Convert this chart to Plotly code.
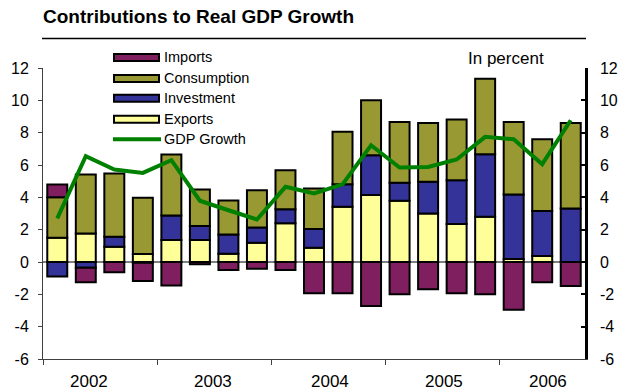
import plotly.graph_objects as go

# Quarterly contributions (percentage points), 2002Q1 - 2006Q3
quarters = ["2002Q1", "2002Q2", "2002Q3", "2002Q4",
            "2003Q1", "2003Q2", "2003Q3", "2003Q4",
            "2004Q1", "2004Q2", "2004Q3", "2004Q4",
            "2005Q1", "2005Q2", "2005Q3", "2005Q4",
            "2006Q1", "2006Q2", "2006Q3"]
years = ["2002", "2003", "2004", "2005", "2006"]

exports = [1.50, 1.77, 0.95, 0.49, 1.36, 1.36, 0.51, 1.19, 2.39, 0.88,
           3.42, 4.14, 3.79, 3.00, 2.35, 2.80, 0.19, 0.37, 0.00]
investment = [-0.90, -0.35, 0.61, -0.05, 1.52, 0.86, 1.19, 0.95, 0.88, 1.16,
              1.39, 2.46, 1.11, 1.96, 2.71, 3.87, 3.99, 2.78, 3.31]
consumption = [2.50, 3.64, 3.91, 3.48, 3.77, 2.27, 2.11, 2.30, 2.41, 2.51,
               3.24, 3.40, 3.76, 3.64, 3.75, 4.67, 4.48, 4.44, 5.29]
imports = [0.80, -0.90, -0.64, -1.12, -1.46, -0.14, -0.50, -0.41, -0.49, -1.93,
           -1.93, -2.72, -2.00, -1.69, -1.93, -2.00, -2.96, -1.25, -1.48]
gdp_growth = [2.70, 6.54, 5.72, 5.51, 6.30, 3.79, 3.20, 2.63, 4.65, 4.24,
              4.80, 7.22, 5.84, 5.88, 6.34, 7.74, 7.59, 6.05, 8.77]

y_ticks = [12, 10, 8, 6, 4, 2, 0, -2, -4, -6]

W, H = 623, 392
L, R, T, B = 43, 38, 67.6, 33
FONT = "Liberation Sans, Arial, sans-serif"

series = [
    ("Exports", exports, "#FFFF99"),
    ("Investment", investment, "#333399"),
    ("Consumption", consumption, "#999933"),
    ("Imports", imports, "#7F1F5F"),
]

x = list(range(len(quarters)))
fig = go.Figure()
for name, vals, col in series:
    fig.add_trace(go.Bar(
        x=x, y=vals, name=name, width=0.7,
        marker=dict(color=col, line=dict(color="black", width=2)),
        hovertext=quarters,
    ))
fig.add_trace(go.Scatter(
    x=x, y=gdp_growth, name="GDP Growth", mode="lines",
    line=dict(color="#008000", width=4), hovertext=quarters,
))
# invisible trace to carry the right-hand axis
fig.add_trace(go.Scatter(x=[x[0]], y=[0], yaxis="y2", mode="markers",
                         marker=dict(opacity=0), showlegend=False, hoverinfo="skip"))


def px_x(p):
    return (p - L) / (W - L - R)


def px_y(p):
    return (H - B - p) / (H - B - T)


shapes = []
annotations = []

# title rule
shapes.append(dict(type="line", xref="paper", yref="paper",
                   x0=px_x(42), x1=px_x(586), y0=px_y(38), y1=px_y(38),
                   line=dict(color="black", width=1.5)))
# zero line
shapes.append(dict(type="line", xref="paper", yref="y", x0=0, x1=1, y0=0, y1=0,
                   line=dict(color="black", width=1), layer="below"))

# legend drawn as swatches + labels
legend_rows = [("Imports", "#7F1F5F", "bar"), ("Consumption", "#999933", "bar"),
               ("Investment", "#333399", "bar"), ("Exports", "#FFFF99", "bar"),
               ("GDP Growth", "#008000", "line")]
row_y = [57, 78, 98, 119, 139]
for (name, col, kind), yc in zip(legend_rows, row_y):
    if kind == "bar":
        shapes.append(dict(type="rect", xref="paper", yref="paper",
                           x0=px_x(114), x1=px_x(159), y0=px_y(yc - 3.5), y1=px_y(yc + 3.5),
                           fillcolor=col, line=dict(color="black", width=2)))
    else:
        shapes.append(dict(type="line", xref="paper", yref="paper",
                           x0=px_x(113), x1=px_x(161), y0=px_y(yc), y1=px_y(yc),
                           line=dict(color=col, width=4)))
    annotations.append(dict(text=name, xref="paper", yref="paper",
                            x=px_x(162), y=px_y(yc), xanchor="left", yanchor="middle",
                            showarrow=False, font=dict(size=14.5, color="black", family=FONT)))

annotations.append(dict(text="<b>Contributions to Real GDP Growth</b>", xref="paper", yref="paper",
                        x=px_x(41), y=px_y(16), xanchor="left", yanchor="middle",
                        showarrow=False, font=dict(size=19, color="black", family=FONT)))
annotations.append(dict(text="In percent", xref="paper", yref="paper",
                        x=px_x(506), y=px_y(58), xanchor="center", yanchor="middle",
                        showarrow=False, font=dict(size=17, color="black", family=FONT)))

# year labels under each group of quarters
year_pos = [1.12, 5.45, 9.55, 13.55, 17.2]
for yr, xp in zip(years, year_pos):
    annotations.append(dict(text=yr, xref="x", yref="paper", x=xp, y=px_y(381.5),
                            xanchor="center", yanchor="middle", showarrow=False,
                            font=dict(size=17, color="black", family=FONT)))

tick_font = dict(size=16, color="black", family=FONT)

fig.update_layout(
    width=W, height=H, margin=dict(l=L, r=R, t=T, b=B, autoexpand=False),
    paper_bgcolor="white", plot_bgcolor="white",
    barmode="relative", bargap=0.3, showlegend=False,
    font=dict(family=FONT, color="black"),
    xaxis=dict(range=[-0.5, len(quarters) - 0.5], tickvals=[-0.5, 3.5, 7.5, 11.5, 15.5],
               ticktext=["", "", "", "", ""], showgrid=False, zeroline=False,
               showline=True, linecolor="#404040", linewidth=1, ticks="outside",
               ticklen=5, tickcolor="#404040", tickwidth=1),
    yaxis=dict(range=[-6, 12], tickvals=y_ticks, ticktext=[str(v) for v in y_ticks],
               side="left", showgrid=False, zeroline=False, showline=True,
               linecolor="#404040", linewidth=1, ticks="outside", ticklen=4,
               tickcolor="#404040", tickwidth=1, tickfont=tick_font,
               ticklabelstandoff=6),
    yaxis2=dict(range=[-6, 12], tickvals=y_ticks, ticktext=[str(v) for v in y_ticks],
                side="right", overlaying="y", showgrid=False, zeroline=False,
                showline=True, linecolor="black", linewidth=2.5, ticks="inside",
                ticklen=4, tickcolor="black", tickwidth=2, tickfont=tick_font,
                ticklabelstandoff=9),
    shapes=shapes, annotations=annotations,
)

fig.write_html("out.html")
